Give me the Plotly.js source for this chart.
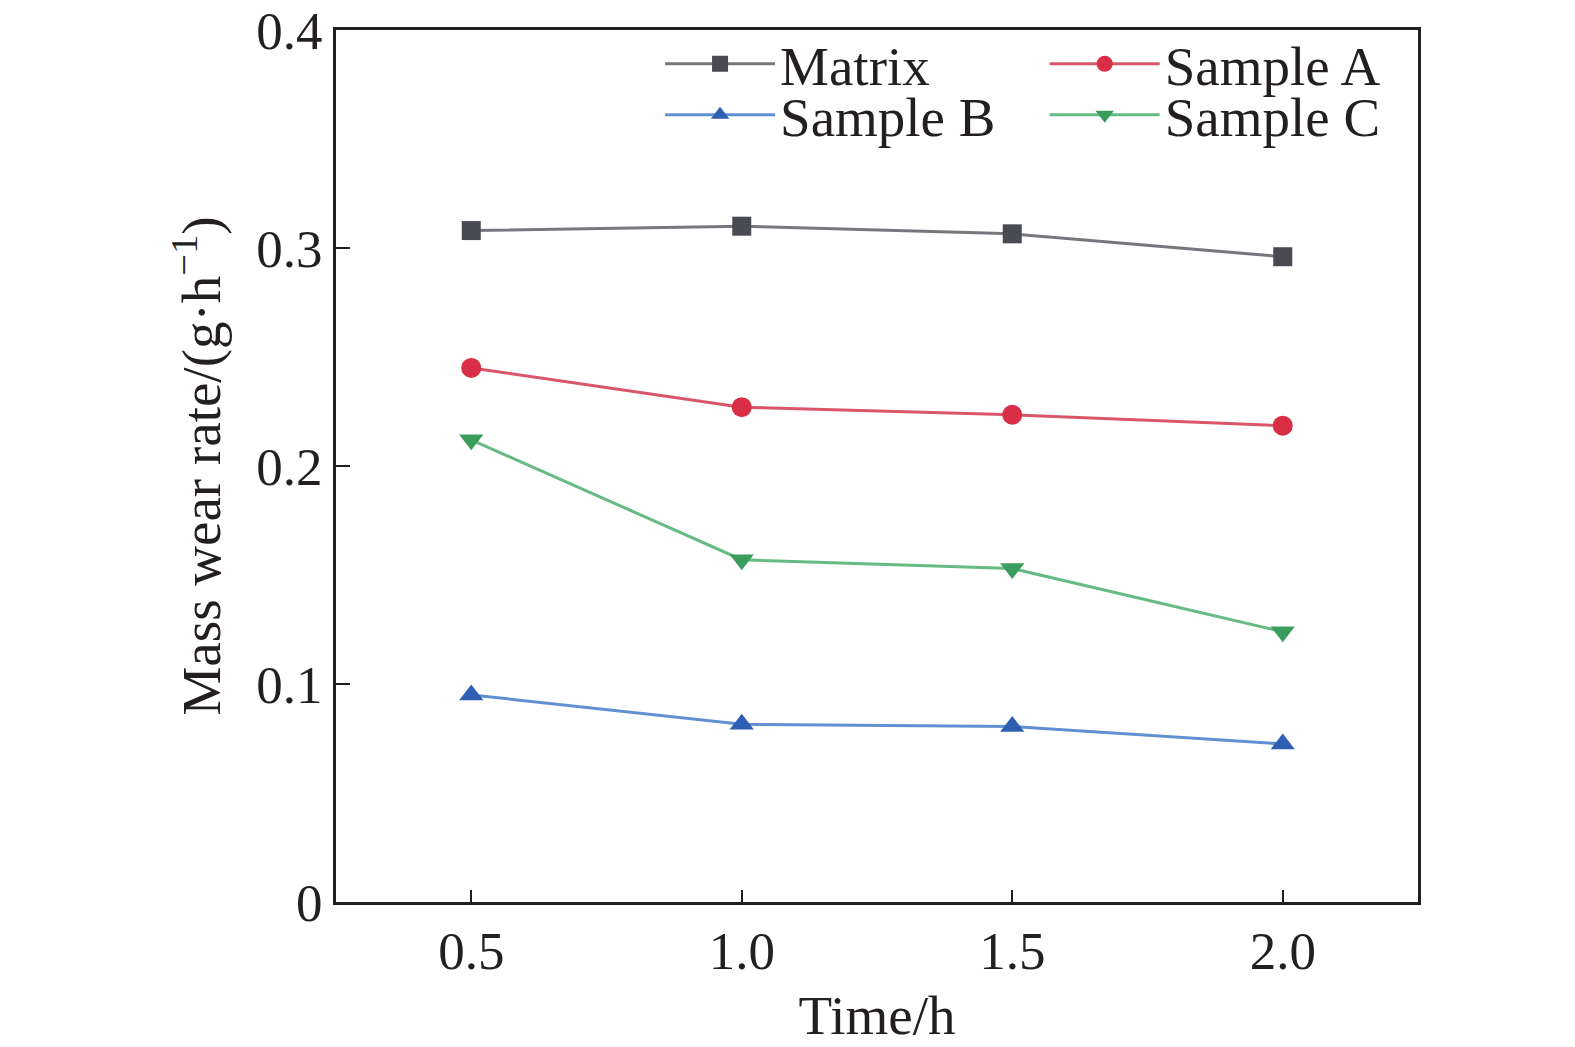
<!DOCTYPE html>
<html>
<head>
<meta charset="utf-8">
<script src="https://cdn.plot.ly/plotly-3.0.1.min.js"></script>
<style>
  html, body { margin: 0; padding: 0; background: #fff; }
  #chart { width: 1575px; height: 1047px; }
</style>
</head>
<body>
<div id="chart"></div>
<script>
var timeH = [0.5, 1.0, 1.5, 2.0];
var matrix = [0.308, 0.310, 0.3065, 0.296];
var sampleA = [0.245, 0.227, 0.2235, 0.2185];
var sampleB = [0.095, 0.0815, 0.0805, 0.0725];
var sampleC = [0.212, 0.157, 0.153, 0.124];

var yTicks = [0, 0.1, 0.2, 0.3, 0.4];
var yTickText = ["0", "0.1", "0.2", "0.3", "0.4"];
var xTicks = [0.5, 1.0, 1.5, 2.0];
var xTickText = ["0.5", "1.0", "1.5", "2.0"];

var font = "Liberation Serif, Times New Roman, serif";
var ink = "#231f20";

function series(name, y, symbol, markerColor, lineColor, legendId, size) {
  return {
    x: timeH,
    y: y,
    name: name,
    type: "scatter",
    mode: "lines+markers",
    legend: legendId,
    line: { color: lineColor, width: 3 },
    marker: { symbol: symbol, size: size, color: markerColor }
  };
}

var data = [
  series("Matrix", matrix, "square", "#4a4b52", "#76777c", "legend", 19),
  series("Sample A", sampleA, "circle", "#d92e45", "#d9566a", "legend2", 20),
  series("Sample B", sampleB, "triangle-up", "#2f5fb3", "#6190d2", "legend3", 21),
  series("Sample C", sampleC, "triangle-down", "#3b9d5d", "#66bb82", "legend4", 21)
];

function leg(x, y) {
  return {
    x: x, y: y, xanchor: "left", yanchor: "middle",
    xref: "paper", yref: "paper",
    bgcolor: "rgba(0,0,0,0)",
    font: { family: font, size: 55, color: ink },
    itemwidth: 110
  };
}

var layout = {
  width: 1575,
  height: 1047,
  paper_bgcolor: "#fff",
  plot_bgcolor: "#fff",
  margin: { l: 336, r: 157, t: 30, b: 145, pad: 0 },
  font: { family: font, size: 53, color: ink },
  showlegend: true,
  legend: leg(0.2995, 0.961),
  legend2: leg(0.655, 0.961),
  legend3: leg(0.2995, 0.9025),
  legend4: leg(0.655, 0.9025),
  xaxis: {
    range: [0.25, 2.25],
    tickvals: xTicks,
    ticktext: xTickText,
    ticks: "inside",
    ticklen: 12,
    tickwidth: 2,
    tickcolor: ink,
    showline: true,
    linecolor: ink,
    linewidth: 3,
    mirror: true,
    showgrid: false,
    zeroline: false,
    tickfont: { family: font, size: 53, color: ink },
    title: { text: "Time/h", font: { family: font, size: 55, color: ink }, standoff: 17 }
  },
  yaxis: {
    range: [0, 0.4],
    tickvals: yTicks,
    ticktext: yTickText,
    ticks: "inside",
    ticklen: 14,
    tickwidth: 2,
    tickcolor: ink,
    showline: true,
    linecolor: ink,
    linewidth: 3,
    mirror: true,
    showgrid: false,
    zeroline: false,
    tickfont: { family: font, size: 53, color: ink },
    title: { text: "Mass wear rate/(g·h<sup>−1</sup>)", font: { family: font, size: 55, color: ink }, standoff: 18 }
  }
};

Plotly.newPlot("chart", data, layout, { displayModeBar: false, staticPlot: true });
</script>
</body>
</html>
